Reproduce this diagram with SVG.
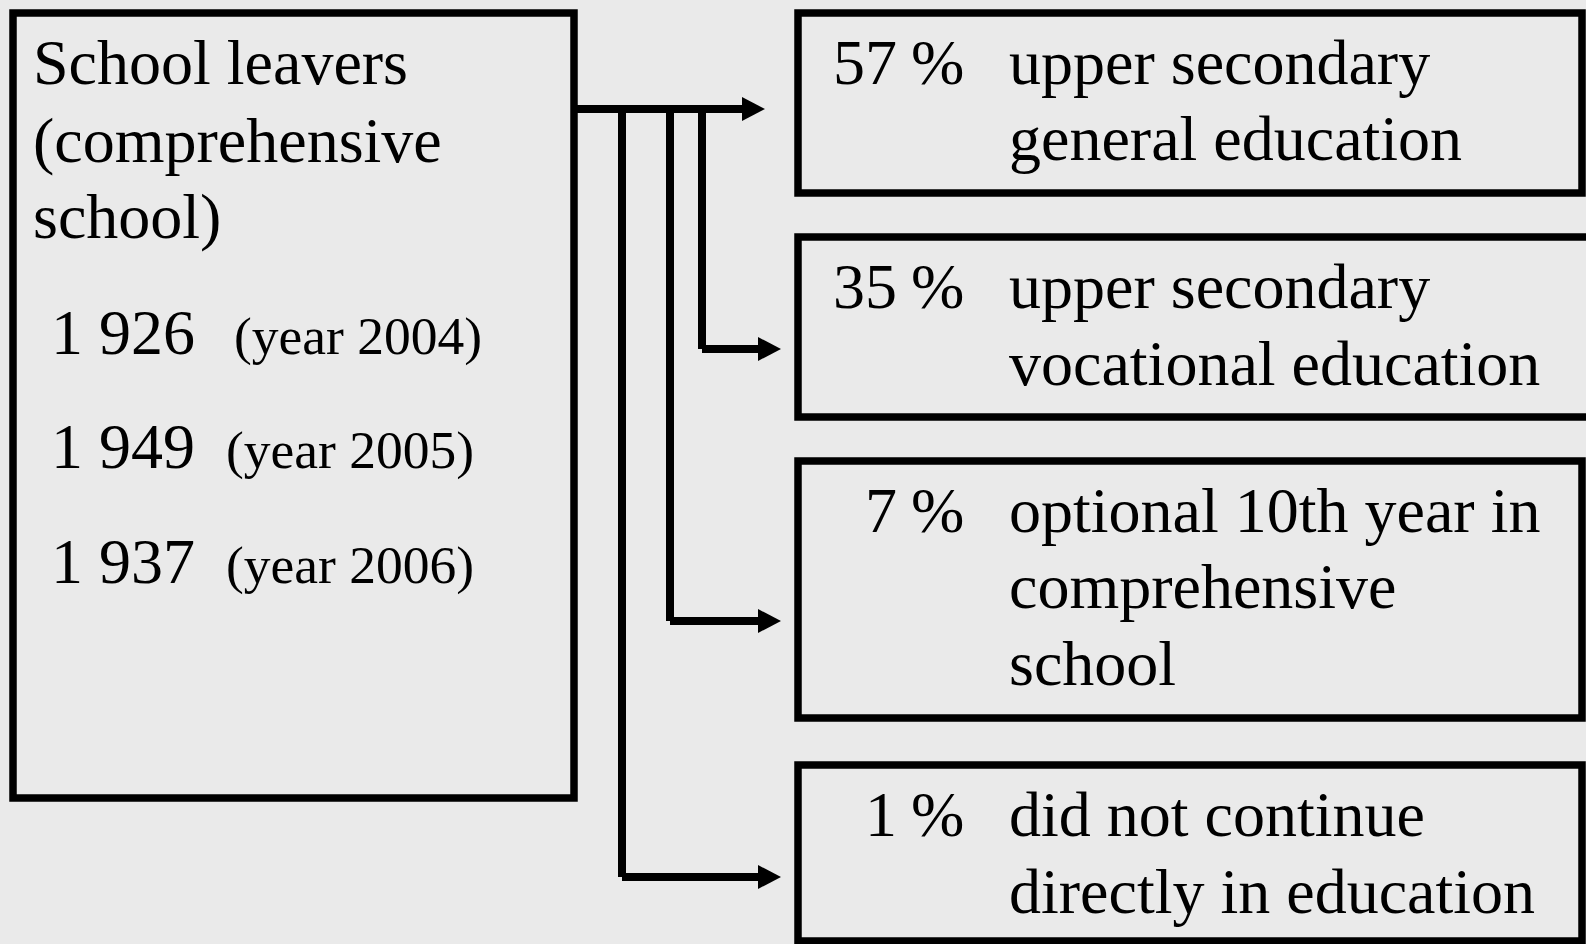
<svg xmlns="http://www.w3.org/2000/svg" width="1586" height="944" viewBox="0 0 1586 944">
<style>
.box{fill:none;stroke:#000;stroke-width:7.5}
.t{font-family:"Liberation Serif","Times New Roman",serif;font-size:64px;fill:#000}
.y{font-size:53.5px}
.e{text-anchor:end}
.c{fill:none;stroke:#000;stroke-width:8;stroke-linecap:butt}
</style>
<defs>
<marker id="ah" viewBox="0 0 23 24" refX="0" refY="12" markerWidth="23" markerHeight="24" markerUnits="userSpaceOnUse" orient="auto">
<path d="M0,0 L23,12 L0,24 Z" fill="#000"/>
</marker>
</defs>
<rect width="1586" height="944" fill="#EAEAEA"/>
<g id="connectors">
<line class="c" x1="577" y1="109" x2="742" y2="109" marker-end="url(#ah)"/>
<line class="c" x1="702" y1="109" x2="702" y2="349"/>
<line class="c" x1="702" y1="349" x2="758" y2="349" marker-end="url(#ah)"/>
<line class="c" x1="670" y1="109" x2="670" y2="621"/>
<line class="c" x1="670" y1="621" x2="758" y2="621" marker-end="url(#ah)"/>
<line class="c" x1="622" y1="109" x2="622" y2="877"/>
<line class="c" x1="622" y1="877" x2="758" y2="877" marker-end="url(#ah)"/>
</g>
<g id="school-leavers">
<rect class="box" x="13" y="13" width="561" height="785"/>
<text class="t" x="33" y="84">School leavers</text>
<text class="t" x="33" y="162">(comprehensive</text>
<text class="t" x="33" y="238">school)</text>
<text class="t" x="51" y="354">1 926 <tspan class="y" x="234">(year 2004)</tspan></text>
<text class="t" x="51" y="468">1 949 <tspan class="y" x="226">(year 2005)</tspan></text>
<text class="t" x="51" y="583">1 937 <tspan class="y" x="226">(year 2006)</tspan></text>
</g>
<g id="general">
<rect class="box" x="798" y="13" width="784" height="180"/>
<text class="t e" x="897" y="84">57</text>
<text class="t" x="911" y="84">%</text>
<text class="t" x="1009" y="84">upper secondary</text>
<text class="t" x="1009" y="160">general education</text>
</g>
<g id="vocational">
<rect class="box" x="798" y="237" width="800" height="180"/>
<text class="t e" x="897" y="308">35</text>
<text class="t" x="911" y="308">%</text>
<text class="t" x="1009" y="308">upper secondary</text>
<text class="t" x="1009" y="385">vocational education</text>
</g>
<g id="tenth-year">
<rect class="box" x="798" y="461" width="784" height="257"/>
<text class="t e" x="897" y="532">7</text>
<text class="t" x="911" y="532">%</text>
<text class="t" x="1009" y="532">optional 10th year in</text>
<text class="t" x="1009" y="608">comprehensive</text>
<text class="t" x="1009" y="685">school</text>
</g>
<g id="not-continued">
<rect class="box" x="798" y="765" width="784" height="176"/>
<text class="t e" x="897" y="836">1</text>
<text class="t" x="911" y="836">%</text>
<text class="t" x="1009" y="836">did not continue</text>
<text class="t" x="1009" y="913">directly in education</text>
</g>
</svg>
